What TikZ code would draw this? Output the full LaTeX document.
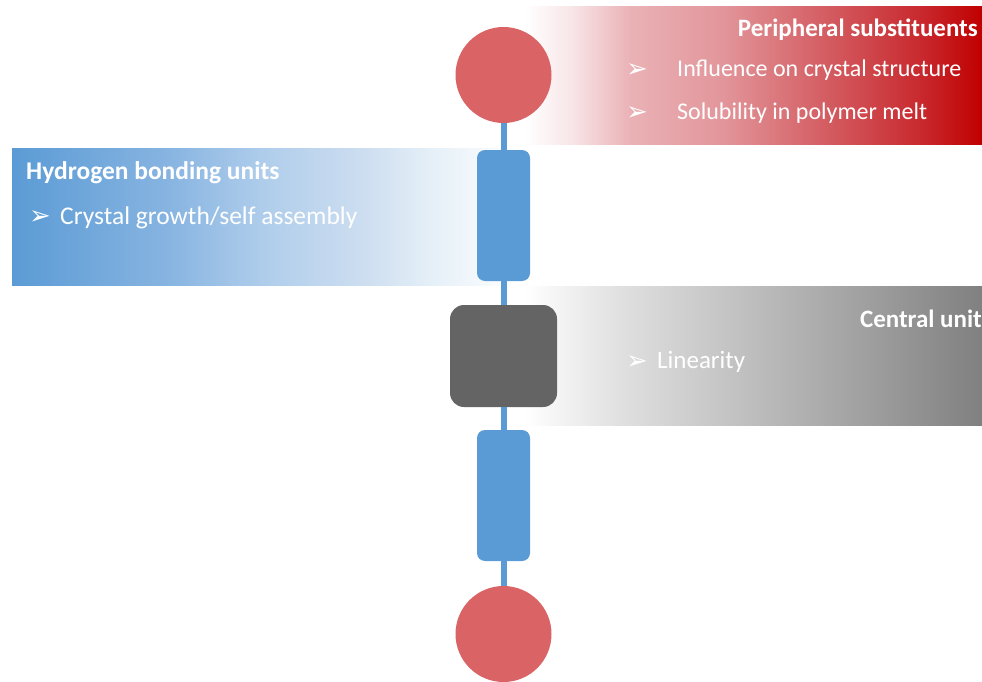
\documentclass[tikz,border=0pt]{standalone}
\usepackage{fontspec}
\setmainfont{Carlito}
\newfontfamily\symfont{DejaVu Sans}
\definecolor{cblue}{RGB}{91,155,213}
\definecolor{cred}{RGB}{217,99,101}
\definecolor{cdark}{RGB}{100,100,100}
\pgfdeclarehorizontalshading{redband}{100bp}{
  color(0bp)=(white); color(25bp)=(white);
  color(30bp)=(rgb,255:red,248;green,230;blue,232); color(36.5bp)=(rgb,255:red,234;green,178;blue,182);
  color(46.5bp)=(rgb,255:red,226;green,150;blue,155); color(57.5bp)=(rgb,255:red,212;green,95;blue,100);
  color(68.5bp)=(rgb,255:red,200;green,40;blue,45); color(75bp)=(rgb,255:red,192;green,0;blue,0);
  color(100bp)=(rgb,255:red,192;green,0;blue,0)}
\pgfdeclarehorizontalshading{blueband}{100bp}{
  color(0bp)=(rgb,255:red,91;green,155;blue,213); color(25bp)=(rgb,255:red,91;green,155;blue,213);
  color(40.5bp)=(rgb,255:red,135;green,180;blue,225); color(50bp)=(rgb,255:red,175;green,205;blue,235);
  color(60bp)=(rgb,255:red,205;green,222;blue,240); color(67bp)=(rgb,255:red,230;green,240;blue,248);
  color(75bp)=(white); color(100bp)=(white)}
\pgfdeclarehorizontalshading{grayband}{100bp}{
  color(0bp)=(white); color(25bp)=(white);
  color(35bp)=(rgb,255:red,225;green,225;blue,225); color(47.5bp)=(rgb,255:red,195;green,195;blue,195);
  color(60bp)=(rgb,255:red,165;green,165;blue,165); color(75bp)=(rgb,255:red,128;green,128;blue,128);
  color(100bp)=(rgb,255:red,128;green,128;blue,128)}
\tikzset{
  band/.style={draw=none},
  ball/.style={circle, fill=cred, minimum size=96pt, inner sep=0pt},
  hbunit/.style={rectangle, rounded corners=8pt, fill=cblue, minimum width=53pt, minimum height=131pt, inner sep=0pt},
  core/.style={rectangle, rounded corners=14pt, fill=cdark, minimum width=107pt, minimum height=102pt, inner sep=0pt},
  bond/.style={draw=cblue, line width=6pt},
  title/.style={text=white, font=\fontsize{25}{30}\selectfont\bfseries, inner sep=0pt},
  item/.style={text=white, font=\fontsize{25}{30}\selectfont, inner sep=0pt},
  bullet/.style={text=white, font=\fontsize{26}{30}\selectfont\symfont, inner sep=0pt},
}
\begin{document}
\begin{tikzpicture}[x=1pt,y=-1pt]
\useasboundingbox (0,0) rectangle (982,682);
% bands
\shade[shading=redband, band] (525,7) rectangle (982,144);
\shade[shading=blueband, band] (12,148) rectangle (515,285);
\shade[shading=grayband, band] (525,286) rectangle (982,425);
% molecule
\node[ball] (c1) at (503.5,75) {};
\node[hbunit] (r1) at (503.5,215.5) {};
\node[core] (sq) at (503.5,356) {};
\node[hbunit] (r2) at (503.5,495.5) {};
\node[ball] (c2) at (503.5,634) {};
\draw[bond] (c1.south) -- (r1.north);
\draw[bond] (r1.south) -- (sq.north);
\draw[bond] (sq.south) -- (r2.north);
\draw[bond] (r2.south) -- (c2.north);
% texts
\node[title, anchor=base east] (t1) at (978,37) {Peripheral substituents};
\node[bullet, anchor=base west] (b1) at (626,78) {➢};
\node[item, anchor=base west, font=\fontsize{24}{28}\selectfont] (i1) at (677,77) {Influence on crystal structure};
\node[bullet, anchor=base west] (b2) at (626,121) {➢};
\node[item, anchor=base west, font=\fontsize{24}{28}\selectfont] (i2) at (677,120) {Solubility in polymer melt};
\node[title, anchor=base west, font=\fontsize{25.5}{30}\selectfont\bfseries] (t2) at (26,179) {Hydrogen bonding units};
\node[bullet, anchor=base west] (b3) at (29,224) {➢};
\node[item, anchor=base west, font=\fontsize{25.5}{30}\selectfont] (i3) at (60,224) {Crystal growth/self assembly};
\node[title, anchor=base east] (t3) at (982,327) {Central unit};
\node[bullet, anchor=base west] (b4) at (626,369) {➢};
\node[item, anchor=base west] (i4) at (657,368) {Linearity};
\end{tikzpicture}
\end{document}
